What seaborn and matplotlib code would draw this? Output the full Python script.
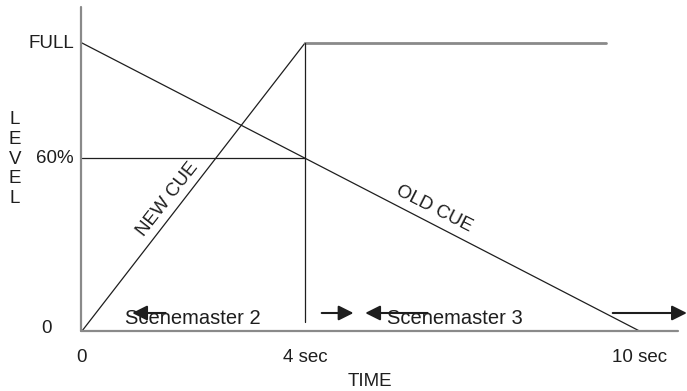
import numpy as np
import pandas as pd
import seaborn as sns
import matplotlib.pyplot as plt

# crossfade data: time (sec) vs level (%)
new_cue_time = [0, 4]
new_cue_level = [0, 100]
old_cue_time = [0, 10]
old_cue_level = [100, 0]
hold_time = [4, 9.4]          # new cue holding at FULL
hold_level = [100, 100]
sixty_time = [0, 4]           # 60% reference
sixty_level = [60, 60]
go_time = [4, 4]              # marker at 4 sec
go_level = [100, 3]

y_ticks = [0, 60, 100]
y_labels = ["0", "60%", "FULL"]
x_ticks = [0, 4, 10]
x_labels = ["0", "4 sec", "10 sec"]

# scenemaster arrows (tail, head) at level 6.25
arrows = [(1.5, 0.9), (4.3, 4.87), (6.2, 5.08), (9.52, 10.85)]
arrow_level = 6.25

sns.set_style("white")
plt.rcParams['font.family'] = ['Liberation Sans', 'DejaVu Sans']
ink = "#1e1e1e"

fig = plt.figure(figsize=(6.87, 3.91), dpi=100)
ax = fig.add_axes([0, 0, 1, 1])
# pixel mapping: x=0 -> 82px, 55.75 px/sec ; y=0 -> 331px, 2.88 px/%
ax.set_xlim(-82 / 55.75, (687 - 82) / 55.75)
ax.set_ylim((331 - 391) / 2.88, 331 / 2.88)
ax.axis("off")

cues = pd.DataFrame({
    "time": new_cue_time + old_cue_time,
    "level": new_cue_level + old_cue_level,
    "cue": ["new"] * 2 + ["old"] * 2,
})
sns.lineplot(data=cues, x="time", y="level", units="cue", estimator=None,
             color=ink, lw=0.9, ax=ax, legend=False)

# axes lines
ax.plot([-0.02, -0.02], [0, 112.5], color="#8a8a8a", lw=1.6)
ax.plot([-0.02, 10.69], [0, 0], color="#8a8a8a", lw=1.6)
ax.plot(hold_time, hold_level, color="#8a8a8a", lw=2)
ax.plot(sixty_time, sixty_level, color=ink, lw=0.9)
ax.plot(go_time, go_level, color=ink, lw=0.9)

# tick labels
fs = 13.5
for v, lab in zip(y_ticks, y_labels):
    if v == 0:
        ax.text((47 - 82) / 55.75, v + 1, lab, ha="center", va="center", fontsize=fs, color=ink)
    else:
        ax.text((74 - 82) / 55.75, v, lab, ha="right", va="center", fontsize=fs, color=ink)
for v, lab in zip(x_ticks, x_labels):
    ax.text(v, (331 - 358) / 2.88, lab, ha="center", va="center", fontsize=fs, color=ink)
ax.text((370 - 82) / 55.75, (331 - 382) / 2.88, "TIME", ha="center", va="center",
        fontsize=fs, color=ink)
ax.text((15 - 82) / 55.75, (331 - 159) / 2.88, "L\nE\nV\nE\nL", ha="center", va="center",
        fontsize=fs, color=ink, linespacing=1.22)

# cue labels
ax.text(1.53, 45.8, "NEW CUE", rotation=52, ha="center", va="center", fontsize=fs,
        color=ink, rotation_mode="anchor")
ax.text(6.31, 42.4, "OLD CUE", rotation=-27, ha="center", va="center", fontsize=fs,
        color=ink, rotation_mode="anchor")

# scenemaster labels and arrows
ax.text(0.77, 4.2, "Scenemaster 2", ha="left", va="center", fontsize=14.5, color=ink)
ax.text(5.47, 4.2, "Scenemaster 3", ha="left", va="center", fontsize=14.5, color=ink)
for tail, head in arrows:
    ax.annotate("", xy=(head, arrow_level), xytext=(tail, arrow_level),
                arrowprops=dict(arrowstyle="-|>,head_length=0.6,head_width=0.3",
                                color=ink, lw=1.5, mutation_scale=15,
                                shrinkA=0, shrinkB=0))

fig.savefig("out.png", dpi=100)
